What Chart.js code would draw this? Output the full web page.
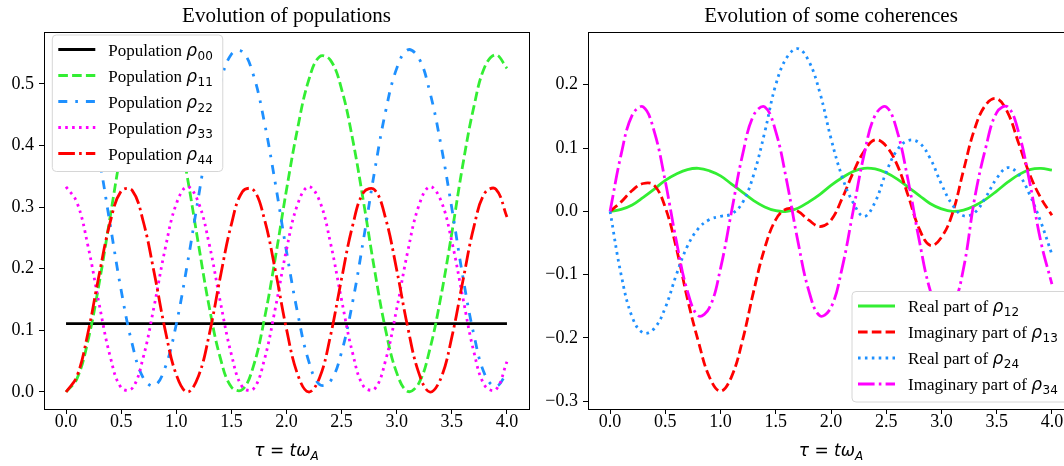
<!DOCTYPE html>
<html>
<head>
<meta charset="utf-8">
<script src="https://cdn.jsdelivr.net/npm/chart.js@4.4.0/dist/chart.umd.min.js"></script>
<style>
  html, body { margin: 0; padding: 0; background: #fff; overflow: hidden; width: 1064px; height: 466px; }
  canvas { position: absolute; top: 0; }
  #pop { left: 0; }
  #coh { left: 540px; }
</style>
</head>
<body>
<canvas id="pop" width="540" height="466"></canvas>
<canvas id="coh" width="550" height="466"></canvas>
<script>
// tau = t*omega_A, read every 0.1
var tau = [0.0, 0.1, 0.2, 0.3, 0.4, 0.5, 0.6, 0.7, 0.8, 0.9, 1.0, 1.1, 1.2, 1.3, 1.4, 1.5, 1.6, 1.7, 1.8, 1.9, 2.0,
           2.1, 2.2, 2.3, 2.4, 2.5, 2.6, 2.7, 2.8, 2.9, 3.0, 3.1, 3.2, 3.3, 3.4, 3.5, 3.6, 3.7, 3.8, 3.9, 4.0];
var xTicks = [0.0, 0.5, 1.0, 1.5, 2.0, 2.5, 3.0, 3.5, 4.0];
var popTicks = [0.0, 0.1, 0.2, 0.3, 0.4, 0.5];
var cohTicks = [-0.3, -0.2, -0.1, 0.0, 0.1, 0.2];

// populations
var rho00 = [0.111, 0.111, 0.111, 0.111, 0.111, 0.111, 0.111, 0.111, 0.111, 0.111, 0.111, 0.111, 0.111, 0.111,
             0.111, 0.111, 0.111, 0.111, 0.111, 0.111, 0.111, 0.111, 0.111, 0.111, 0.111, 0.111, 0.111, 0.111,
             0.111, 0.111, 0.111, 0.111, 0.111, 0.111, 0.111, 0.111, 0.111, 0.111, 0.111, 0.111, 0.111];
var rho11 = [0, 0.022, 0.084, 0.176, 0.284, 0.391, 0.478, 0.533, 0.546, 0.516, 0.446, 0.349, 0.241, 0.137,
             0.055, 0.008, 0.004, 0.042, 0.119, 0.219, 0.328, 0.427, 0.505, 0.544, 0.538, 0.491, 0.410, 0.307,
             0.197, 0.100, 0.031, 0.001, 0.014, 0.069, 0.154, 0.258, 0.369, 0.463, 0.528, 0.547, 0.525];
var rho22 = [0.556, 0.534, 0.472, 0.380, 0.272, 0.165, 0.078, 0.023, 0.010, 0.040, 0.110, 0.207, 0.315, 0.419,
             0.501, 0.548, 0.552, 0.514, 0.437, 0.337, 0.228, 0.129, 0.051, 0.012, 0.018, 0.065, 0.146, 0.249,
             0.359, 0.456, 0.525, 0.555, 0.542, 0.487, 0.402, 0.298, 0.187, 0.093, 0.028, 0.009, 0.031];
var rho33 = [0.333, 0.307, 0.236, 0.143, 0.058, 0.007, 0.006, 0.056, 0.140, 0.233, 0.305, 0.333, 0.308, 0.239,
             0.146, 0.061, 0.008, 0.005, 0.053, 0.137, 0.231, 0.304, 0.333, 0.310, 0.241, 0.149, 0.063, 0.009,
             0.005, 0.052, 0.135, 0.228, 0.302, 0.333, 0.311, 0.244, 0.153, 0.065, 0.010, 0.004, 0.049];
var rho44 = [0, 0.026, 0.097, 0.190, 0.275, 0.326, 0.327, 0.277, 0.193, 0.100, 0.028, 0.000, 0.025, 0.094,
             0.187, 0.272, 0.325, 0.328, 0.280, 0.196, 0.102, 0.029, 0.000, 0.023, 0.092, 0.184, 0.270, 0.324,
             0.328, 0.281, 0.198, 0.105, 0.031, 0.000, 0.022, 0.089, 0.180, 0.268, 0.323, 0.329, 0.284];

// coherences
var re12 = [0, 0.003, 0.010, 0.022, 0.035, 0.049, 0.059, 0.066, 0.068, 0.064, 0.056, 0.043, 0.030, 0.017,
            0.007, 0.001, 0.000, 0.005, 0.015, 0.027, 0.041, 0.053, 0.063, 0.068, 0.067, 0.061, 0.051, 0.038,
            0.025, 0.012, 0.004, 0.000, 0.002, 0.009, 0.019, 0.032, 0.046, 0.058, 0.066, 0.068, 0.065];
var im13 = [0, 0.015, 0.033, 0.044, 0.041, 0.006, -0.058, -0.138, -0.206, -0.262, -0.284, -0.261, -0.203, -0.126,
            -0.058, -0.013, 0.004, 0.000, -0.014, -0.024, -0.014, 0.020, 0.061, 0.095, 0.113, 0.103, 0.073, 0.024,
            -0.028, -0.054, -0.041, -0.003, 0.065, 0.130, 0.168, 0.178, 0.156, 0.107, 0.058, 0.021, -0.006];
var re24 = [0, -0.100, -0.167, -0.192, -0.185, -0.152, -0.100, -0.055, -0.027, -0.013, -0.008, -0.004, 0.014, 0.058,
            0.125, 0.200, 0.243, 0.257, 0.237, 0.187, 0.115, 0.055, 0.014, -0.008, 0.015, 0.062, 0.097, 0.112,
            0.108, 0.083, 0.043, 0.010, -0.007, -0.002, 0.022, 0.052, 0.069, 0.058, 0.026, -0.017, -0.068];
var im34 = [0, 0.090, 0.152, 0.165, 0.126, 0.047, -0.047, -0.126, -0.165, -0.152, -0.090, 0.000, 0.090, 0.152,
            0.165, 0.126, 0.047, -0.047, -0.126, -0.165, -0.152, -0.090, 0.000, 0.090, 0.152, 0.165, 0.126, 0.047,
            -0.047, -0.126, -0.165, -0.152, -0.090, 0.020, 0.100, 0.156, 0.165, 0.124, 0.045, -0.048, -0.115];

var GREEN = '#33ee33', RED = '#ff0000', BLUE = '#1e90ff', MAGENTA = '#ff00ff';
var LW = 2.8;

Chart.defaults.font.family = '"Liberation Serif", "Times New Roman", serif';
Chart.defaults.font.size = 18;
Chart.defaults.color = '#000';

function pts(ys) {
  return ys.map(function (y, i) { return { x: tau[i], y: y }; });
}

function line(label, ys, color, dash, order) {
  return {
    label: label, data: pts(ys), borderColor: color, backgroundColor: color,
    borderWidth: LW, borderDash: dash, pointRadius: 0, tension: 0.4, fill: false, order: order
  };
}

function fmt(v) {
  return Number(v).toFixed(1).replace('-', '\u2212');
}

function axes(yTicks, ymin, ymax, yWidth) {
  var grid = { drawOnChartArea: false, drawTicks: true, tickLength: 5, color: '#000', lineWidth: 1 };
  return {
    x: {
      type: 'linear', min: -0.2, max: 4.2,
      afterBuildTicks: function (s) { s.ticks = xTicks.map(function (v) { return { value: v }; }); },
      afterFit: function (s) { s.height = 57; },
      grid: grid, border: { display: false },
      ticks: { callback: fmt, padding: -3, maxRotation: 0, autoSkip: false }
    },
    y: {
      type: 'linear', min: ymin, max: ymax,
      afterBuildTicks: function (s) { s.ticks = yTicks.map(function (v) { return { value: v }; }); },
      afterFit: function (s) { s.width = yWidth; },
      grid: grid, border: { display: false },
      ticks: { callback: fmt, padding: 5, autoSkip: false }
    }
  };
}

// label with a math rho and subscript, matplotlib mathtext look
function drawRho(ctx, prefix, sub, x, base) {
  ctx.fillStyle = '#000';
  ctx.textAlign = 'left';
  ctx.textBaseline = 'alphabetic';
  ctx.font = '17px "Liberation Serif"';
  ctx.fillText(prefix, x, base);
  x += ctx.measureText(prefix).width;
  ctx.font = 'italic 17px "DejaVu Sans"';
  ctx.fillText('\u03c1', x, base);
  x += ctx.measureText('\u03c1').width + 0.5;
  ctx.font = '12px "DejaVu Sans"';
  ctx.fillText(sub, x, base + 4);
  return x + ctx.measureText(sub).width;
}

function rhoWidth(ctx, prefix, sub) {
  ctx.font = '17px "Liberation Serif"';
  var w = ctx.measureText(prefix).width;
  ctx.font = 'italic 17px "DejaVu Sans"';
  w += ctx.measureText('\u03c1').width + 0.5;
  ctx.font = '12px "DejaVu Sans"';
  return w + ctx.measureText(sub).width;
}

function roundRect(ctx, x, y, w, h, r) {
  ctx.beginPath();
  ctx.moveTo(x + r, y);
  ctx.arcTo(x + w, y, x + w, y + h, r);
  ctx.arcTo(x + w, y + h, x, y + h, r);
  ctx.arcTo(x, y + h, x, y, r);
  ctx.arcTo(x, y, x + w, y, r);
  ctx.closePath();
}

function drawTauLabel(ctx, cx, base) {
  var parts = [
    ['italic 17px "DejaVu Sans"', '\u03c4', 0],
    ['17px "DejaVu Sans"', ' = ', 0],
    ['italic 17px "DejaVu Sans"', 't\u03c9', 0],
    ['italic 12px "DejaVu Sans"', 'A', 4]
  ];
  var total = 0;
  parts.forEach(function (p) { ctx.font = p[0]; total += ctx.measureText(p[1]).width; });
  var x = cx - total / 2;
  ctx.fillStyle = '#000';
  ctx.textAlign = 'left';
  ctx.textBaseline = 'alphabetic';
  parts.forEach(function (p) {
    ctx.font = p[0];
    ctx.fillText(p[1], x, base + p[2]);
    x += ctx.measureText(p[1]).width;
  });
}

function decor(title, labels, place) {
  return {
    id: 'decor',
    afterDatasetsDraw: function (chart) {
      var a = chart.chartArea, ctx = chart.ctx;
      ctx.save();
      ctx.strokeStyle = '#000';
      ctx.lineWidth = 1;
      ctx.strokeRect(Math.round(a.left) + 0.5, Math.round(a.top) + 0.5,
                     Math.round(a.right - a.left), Math.round(a.bottom - a.top));
      ctx.restore();
    },
    afterDraw: function (chart) {
      var a = chart.chartArea, ctx = chart.ctx, ds = chart.data.datasets;
      ctx.save();
      // title
      ctx.fillStyle = '#000';
      ctx.textAlign = 'center';
      ctx.textBaseline = 'alphabetic';
      ctx.font = '21px "Liberation Serif"';
      ctx.fillText(title, (a.left + a.right) / 2, 21.5);
      // x label
      drawTauLabel(ctx, (a.left + a.right) / 2, 456);
      // legend
      var maxW = 0;
      labels.forEach(function (l) { maxW = Math.max(maxW, rhoWidth(ctx, l[0], l[1])); });
      var h = 14.5 + (labels.length - 1) * 26 + 18;
      var w = 56 + maxW + place.pad;
      var bx = a.left + place.dx;
      var by = place.top ? a.top + place.dy : a.bottom - place.dy - h;
      roundRect(ctx, bx, by, w, h, 4);
      ctx.fillStyle = '#ffffff';
      ctx.fill();
      ctx.strokeStyle = '#d6d6d6';
      ctx.lineWidth = 1;
      ctx.stroke();
      labels.forEach(function (l, i) {
        var y = by + 14.5 + i * 26;
        ctx.beginPath();
        ctx.setLineDash(ds[i].borderDash || []);
        ctx.strokeStyle = ds[i].borderColor;
        ctx.lineWidth = ds[i].borderWidth;
        ctx.moveTo(bx + 6, y);
        ctx.lineTo(bx + 43, y);
        ctx.stroke();
        ctx.setLineDash([]);
        drawRho(ctx, l[0], l[1], bx + 56, y + 6);
      });
      ctx.restore();
    }
  };
}

new Chart(document.getElementById('pop'), {
  type: 'line',
  data: {
    datasets: [
      line('Population rho00', rho00, '#000000', [], 5),
      line('Population rho11', rho11, GREEN, [9.6, 4.2], 4),
      line('Population rho22', rho22, BLUE, [9, 8, 2.6, 8], 3),
      line('Population rho33', rho33, MAGENTA, [2.6, 4.3], 2),
      line('Population rho44', rho44, RED, [16.6, 4.2, 2.6, 4.2], 1)
    ]
  },
  options: {
    responsive: false, animation: false, events: [],
    layout: { padding: { left: 0, right: 11, top: 32, bottom: 0 } },
    plugins: { legend: { display: false }, title: { display: false }, tooltip: { enabled: false } },
    scales: axes(popTicks, -0.0276, 0.584, 44)
  },
  plugins: [decor('Evolution of populations',
    [['Population ', '00'], ['Population ', '11'], ['Population ', '22'], ['Population ', '33'], ['Population ', '44']],
    { dx: 8.3, dy: 3, top: true, pad: 10 })]
});

new Chart(document.getElementById('coh'), {
  type: 'line',
  data: {
    datasets: [
      line('Real part of rho12', re12, GREEN, [], 4),
      line('Imaginary part of rho13', im13, RED, [9.6, 4.2], 3),
      line('Real part of rho24', re24, BLUE, [2.6, 4.3], 2),
      line('Imaginary part of rho34', im34, MAGENTA, [16.6, 4.2, 2.6, 4.2], 1)
    ]
  },
  options: {
    responsive: false, animation: false, events: [],
    layout: { padding: { left: 0, right: 16, top: 32, bottom: 0 } },
    plugins: { legend: { display: false }, title: { display: false }, tooltip: { enabled: false } },
    scales: axes(cohTicks, -0.3122, 0.2833, 48)
  },
  plugins: [decor('Evolution of some coherences',
    [['Real part of ', '12'], ['Imaginary part of ', '13'], ['Real part of ', '24'], ['Imaginary part of ', '34']],
    { dx: 264, dy: 7, top: false, pad: 16 })]
});
</script>
</body>
</html>
